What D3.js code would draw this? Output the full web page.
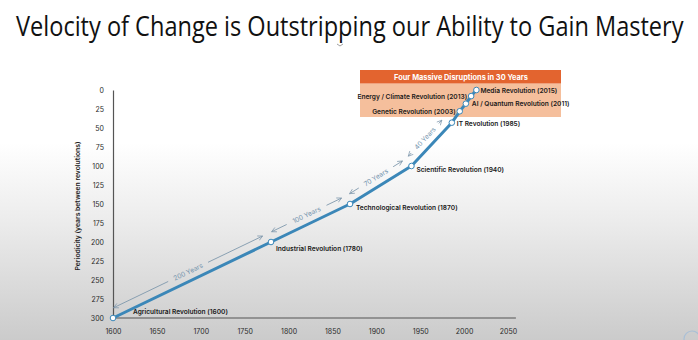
<!DOCTYPE html>
<html>
<head>
<meta charset="utf-8">
<script src="https://cdn.jsdelivr.net/npm/d3@7"></script>
<style>
  html, body { margin: 0; padding: 0; background: #fff; }
  svg { display: block; }
</style>
</head>
<body>
<svg id="chart" width="698" height="340"></svg>
<script>
// ---------------- DATA ----------------
const revolutions = [
  "Agricultural Revolution (1600)",
  "Industrial Revolution (1780)",
  "Technological Revolution (1870)",
  "Scientific Revolution (1940)",
  "IT Revolution (1985)",
  "Genetic Revolution (2003)",
  "AI / Quantum Revolution (2011)",
  "Energy / Climate Revolution (2013)",
  "Media Revolution (2015)"
];
// plotted horizontal position (year)
const years = [1600, 1780, 1870, 1940, 1986, 1995, 2002, 2008, 2014];
// plotted periodicity (years between revolutions)
const periodicity = [300, 200, 150, 100, 43, 28, 18, 8, 0];
const intervalLabels = ["200 Years", "100 Years", "70 Years", "40 Years"];
const xTicks = [1600, 1650, 1700, 1750, 1800, 1850, 1900, 1950, 2000, 2050];
const yTicks = [0, 25, 50, 75, 100, 125, 150, 175, 200, 225, 250, 275, 300];
const titleText = "Velocity of Change is Outstripping our Ability to Gain Mastery";
const yAxisTitle = "Periodicity (years between revolutions)";
const boxTitle = "Four Massive Disruptions in 30 Years";

// ---------------- LAYOUT ----------------
const W = 698, H = 340;
const svg = d3.select("#chart");
const FONT = "Inter, 'Noto Sans', sans-serif";

// label placement: [dx, dy, anchor]
const labelPlace = [
  [20, -4, "start"],
  [5, 8.5, "start"],
  [6, 5.5, "start"],
  [5, 5.5, "start"],
  [5, 3, "start"],
  [-4, 2.5, "end"],
  [6, 2.5, "start"],
  [-4, 2.5, "end"],
  [4, 2.5, "start"]
];

// background gradient
const defs = svg.append("defs");
const grad = defs.append("linearGradient").attr("id", "bg")
  .attr("x1", 0).attr("y1", 0).attr("x2", 0).attr("y2", 1);
grad.append("stop").attr("offset", 0).attr("stop-color", "#ffffff");
grad.append("stop").attr("offset", 0.42).attr("stop-color", "#ffffff");
grad.append("stop").attr("offset", 0.65).attr("stop-color", "#ececec");
grad.append("stop").attr("offset", 1).attr("stop-color", "#cbcbcb");
svg.append("rect").attr("width", W).attr("height", H).attr("fill", "url(#bg)");

// arrow marker
const arrowColor = "#7f98ad";
defs.append("marker").attr("id", "arr")
  .attr("viewBox", "0 0 10 10").attr("refX", 9).attr("refY", 5)
  .attr("markerWidth", 6).attr("markerHeight", 6)
  .attr("orient", "auto-start-reverse")
  .attr("markerUnits", "userSpaceOnUse")
  .append("path").attr("d", "M1,1 L9,5 L1,9").attr("fill", "none")
  .attr("stroke", arrowColor).attr("stroke-width", 1.2);

// title (scaled horizontally to the reference width)
const title = svg.append("text")
  .attr("x", 0).attr("y", 0)
  .attr("font-family", "'Open Sans', 'Noto Sans', sans-serif")
  .attr("font-size", 28)
  .attr("fill", "#111")
  .text(titleText);
const tLen = title.node().getComputedTextLength();
const tTarget = 668;
title.attr("transform", `translate(${W / 2 + 1 - tTarget / 2},36) scale(${tTarget / tLen},1)`);

// small chevron under the title
svg.append("path").attr("d", "M337,44 l3,2 l3,-2").attr("fill", "none")
  .attr("stroke", "#888").attr("stroke-width", 0.8);

// scales
const x = d3.scaleLinear().domain([1600, 2050]).range([113, 508]);
const y = d3.scaleLinear().domain([0, 300]).range([90, 318]);

// orange box (annotation)
const boxX0 = 360, boxX1 = 561, boxY0 = 70, boxYH = 83.5, boxY1 = 117;
svg.append("rect").attr("x", boxX0).attr("y", boxYH).attr("width", boxX1 - boxX0)
  .attr("height", boxY1 - boxYH).attr("fill", "#f5bf9c");
svg.append("rect").attr("x", boxX0).attr("y", boxY0).attr("width", boxX1 - boxX0)
  .attr("height", boxYH - boxY0).attr("fill", "#e3642f");
svg.append("text").attr("x", (boxX0 + boxX1) / 2 + 0.5).attr("y", boxY0 + 9.6)
  .attr("text-anchor", "middle").attr("font-family", FONT).attr("font-weight", 700)
  .attr("font-size", 7.4).attr("fill", "#fff").text(boxTitle);

// axes
const yAxis = d3.axisLeft(y).tickValues(yTicks).tickSize(0).tickSizeOuter(0).tickPadding(9);
const gy = svg.append("g").attr("transform", `translate(${x(1600)},0)`).call(yAxis);
gy.select(".domain").attr("stroke", "#555").attr("stroke-width", 1.2);
gy.selectAll("text").attr("font-family", FONT).attr("font-size", 7).attr("fill", "#2a2a2a");

const xAxis = d3.axisBottom(x).tickValues(xTicks).tickSize(0).tickSizeOuter(0)
  .tickPadding(11).tickFormat(d3.format("d"));
const gx = svg.append("g").attr("transform", `translate(0,${y(300)})`).call(xAxis);
gx.select(".domain").remove();
gx.selectAll("text").attr("font-family", FONT).attr("font-size", 7).attr("fill", "#2a2a2a");
svg.append("line").attr("x1", x(1600)).attr("x2", x(2059))
  .attr("y1", y(300)).attr("y2", y(300)).attr("stroke", "#555").attr("stroke-width", 1.2);

// y axis title
svg.append("text")
  .attr("transform", `translate(80,${(y(0) + y(300)) / 2 + 2}) rotate(-90)`)
  .attr("text-anchor", "middle").attr("font-family", FONT).attr("font-weight", 600)
  .attr("font-size", 6.8).attr("fill", "#222").text(yAxisTitle);

const pts = years.map((yr, i) => ({ x: x(yr), y: y(periodicity[i]), label: revolutions[i] }));

// interval arrows
intervalLabels.forEach((lab, i) => {
  const p0 = pts[i], p1 = pts[i + 1];
  const dx = p1.x - p0.x, dy = p1.y - p0.y;
  const len = Math.hypot(dx, dy);
  const ux = dx / len, uy = dy / len;
  const nx = uy, ny = -ux;        // up-left normal
  const off = 9;
  const sx = p0.x + nx * off + ux * 5, sy = p0.y + ny * off + uy * 5;
  const ex = p1.x + nx * off - ux * 5, ey = p1.y + ny * off - uy * 5;
  const mx = (sx + ex) / 2, my = (sy + ey) / 2;
  const gap = lab.length * 1.9 + 5;
  const g = svg.append("g");
  g.append("line").attr("x1", mx - ux * gap).attr("y1", my - uy * gap)
    .attr("x2", sx).attr("y2", sy)
    .attr("stroke", arrowColor).attr("stroke-width", 0.9).attr("marker-end", "url(#arr)");
  g.append("line").attr("x1", mx + ux * gap).attr("y1", my + uy * gap)
    .attr("x2", ex).attr("y2", ey)
    .attr("stroke", arrowColor).attr("stroke-width", 0.9).attr("marker-end", "url(#arr)");
  const ang = Math.atan2(uy, ux) * 180 / Math.PI;
  g.append("text").attr("transform", `translate(${mx},${my}) rotate(${ang})`)
    .attr("text-anchor", "middle").attr("dy", "0.35em")
    .attr("font-family", FONT).attr("font-size", 6.6).attr("fill", "#7393ad")
    .text(lab);
});

// main line
const line = d3.line().x(d => d.x).y(d => d.y);
svg.append("path").datum(pts).attr("d", line).attr("fill", "none")
  .attr("stroke", "#3b87b8").attr("stroke-width", 3).attr("stroke-linejoin", "round");

// points
svg.selectAll("circle.pt").data(pts).join("circle").attr("class", "pt")
  .attr("cx", d => d.x).attr("cy", d => d.y).attr("r", 2.8)
  .attr("fill", "#fff").attr("stroke", "#3b87b8").attr("stroke-width", 1);

// labels
svg.selectAll("text.lbl").data(pts).join("text").attr("class", "lbl")
  .attr("x", (d, i) => d.x + labelPlace[i][0])
  .attr("y", (d, i) => d.y + labelPlace[i][1])
  .attr("text-anchor", (d, i) => labelPlace[i][2])
  .attr("font-family", FONT).attr("font-weight", 600)
  .attr("font-size", 6.6).attr("fill", "#1a1a1a")
  .text(d => d.label);

// corner icon remnant
svg.append("circle").attr("cx", 692).attr("cy", 339).attr("r", 8)
  .attr("fill", "none").attr("stroke", "#a9bfd6").attr("stroke-width", 1.2);
</script>
</body>
</html>
